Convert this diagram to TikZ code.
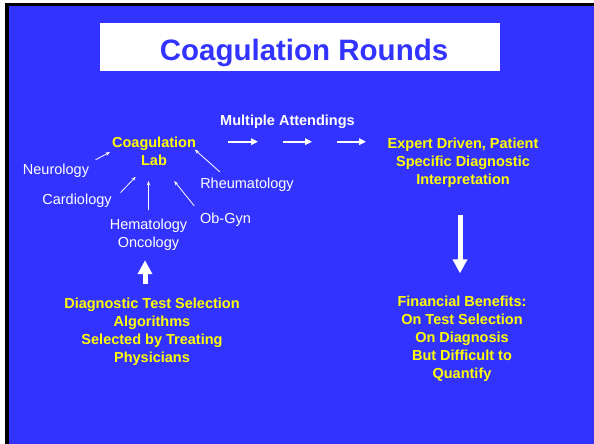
\documentclass[tikz,border=0pt]{standalone}
\usepackage{fontspec}
\setmainfont{Liberation Sans}
\usetikzlibrary{arrows.meta,calc}
\definecolor{slideblue}{RGB}{51,51,255}
\definecolor{slideyellow}{RGB}{255,255,0}

\begin{document}
\begin{tikzpicture}[x=1pt,y=-1pt,
  every node/.style={inner sep=1pt},
  dept/.style={font=\fontsize{14.5}{17.8}\selectfont, text=white},
  deptbold/.style={font=\fontsize{14.5}{17.8}\selectfont\bfseries, text=white},
  keytext/.style={font=\fontsize{14.5}{17.8}\selectfont\bfseries, text=slideyellow, align=center},
  thinarrow/.style={draw=white, line width=0.8pt, -{Stealth[length=4.5pt,width=3.5pt]}},
  steparrow/.style={draw=white, line width=2.4pt, -{Triangle[length=7pt,width=6.5pt]}},
  blockarrow/.style={draw=white, line width=5pt, -{Triangle[length=14pt,width=14pt]}},
]
\useasboundingbox (0,0) rectangle (594,444);
% slide frame and background
\fill[white] (0,0) rectangle (594,444);
\fill[black] (5,3) rectangle (594,444);
\fill[slideblue] (9,6) rectangle (594,444);

% title
\node[fill=white, minimum width=400pt, minimum height=48.3pt, inner sep=0pt] (titlebox) at (300,46.85) {};
\node[anchor=base, text=slideblue, font=\fontsize{29.5}{36}\selectfont\bfseries] (title) at (304,60) {Coagulation Rounds};

% laboratory and referring services (multi-line nodes sit on their last baseline)
\node[anchor=base, keytext] (lab) at (154,165.7) {Coagulation\\Lab};
\node[anchor=base, dept] (neuro) at (56,174.3) {Neurology};
\node[anchor=base, dept] (cardio) at (77,204.3) {Cardiology};
\node[anchor=base, dept, align=center] (hemo) at (148.5,247) {Hematology\\Oncology};
\node[anchor=base, dept] (rheum) at (247,188.3) {Rheumatology};
\node[anchor=base, dept] (obgyn) at (225.5,223.3) {Ob-Gyn};

\draw[thinarrow, shorten <=6pt, shorten >=1pt] (neuro.north east) -- (lab.west);
\draw[thinarrow, shorten <=11pt, shorten >=13.5pt] (cardio.east) -- (lab.240);
\draw[thinarrow, shorten <=7pt, shorten >=14pt] (hemo.north) -- (hemo.north |- lab.south);
\draw[thinarrow, shorten <=7.5pt, shorten >=18pt] (obgyn.north west) -- (lab.300);
\draw[thinarrow, shorten <=7pt, shorten >=-3pt] (rheum.160) -- (lab.east);

% rounds
\node[anchor=base, deptbold] (attend) at (287.5,125.7) {Multiple Attendings};
\coordinate (s1a) at (228,141.7); \coordinate (s1b) at (258,141.7);
\coordinate (s2a) at (283,141.7); \coordinate (s2b) at (312,141.7);
\coordinate (s3a) at (337,141.7); \coordinate (s3b) at (366,141.7);
\draw[steparrow] (s1a) -- (s1b);
\draw[steparrow] (s2a) -- (s2b);
\draw[steparrow] (s3a) -- (s3b);

\node[anchor=base, keytext] (expert) at (463,184) {Expert Driven, Patient\\Specific Diagnostic\\Interpretation};

% outcomes
\node[anchor=base, keytext] (diag) at (152,362.3) {Diagnostic Test Selection\\Algorithms\\Selected by Treating\\Physicians};
\node[anchor=base, keytext] (fin) at (462,378) {Financial Benefits:\\On Test Selection\\On Diagnosis\\But Difficult to\\Quantify};

\draw[blockarrow, shorten <=12.7pt, shorten >=9pt] ($(hemo.south |- diag.north)+(-3.5,0)$) -- ($(hemo.south)+(-3.5,0)$);
\draw[blockarrow, shorten <=27pt, shorten >=21.7pt] ($(expert.south)+(-3,0)$) -- ($(expert.south |- fin.north)+(-3,0)$);
\end{tikzpicture}
\end{document}
